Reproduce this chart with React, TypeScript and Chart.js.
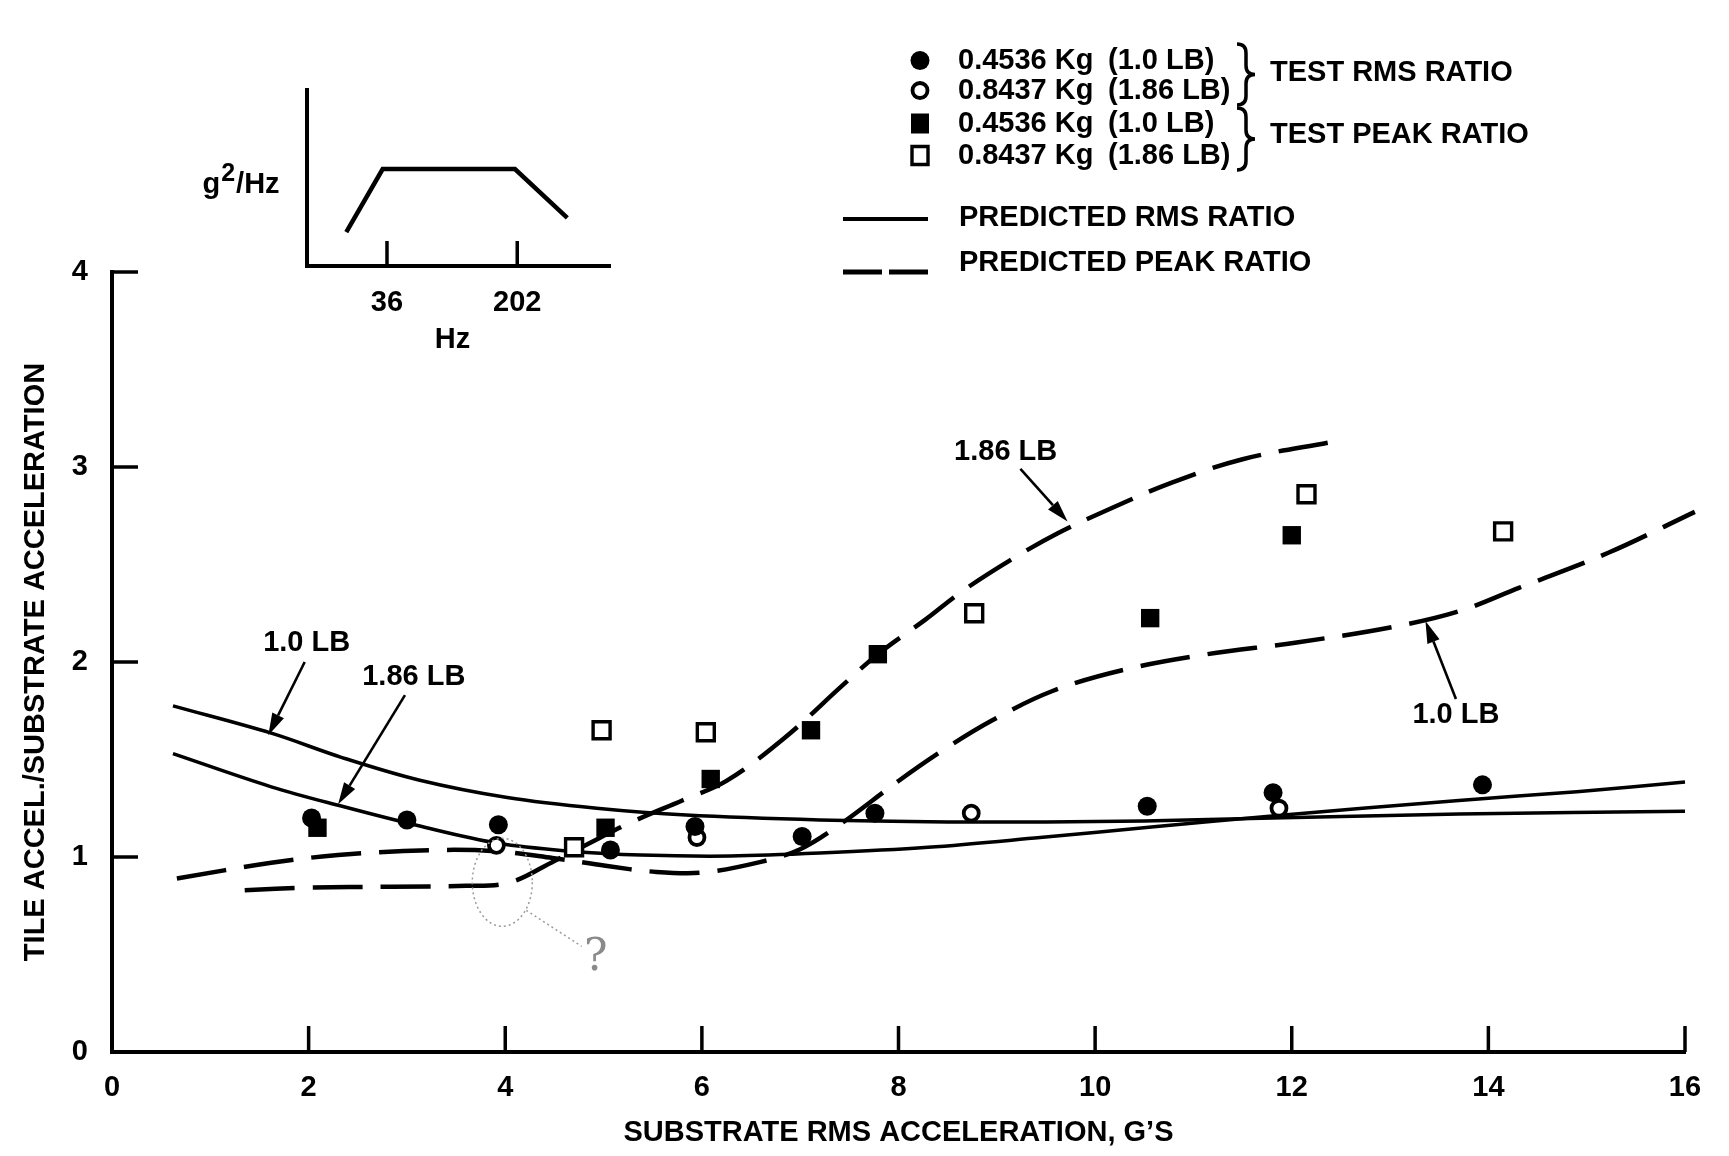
import React, { useEffect, useRef } from "react";
import { Chart, registerables } from "chart.js";

Chart.register(...registerables);

const W = 1729;
const H = 1156;
const FAMILY = "'Liberation Sans', Arial, Helvetica, sans-serif";
const FS = 29;
const boldFont = (size: number) => `bold ${size}px ${FAMILY}`;

// ---------- main axes ----------
const X_MIN = 0;
const X_MAX = 16;
const Y_MIN = 0;
const Y_MAX = 4;
const xTickValues = [0, 2, 4, 6, 8, 10, 12, 14, 16];
const yTickValues = [0, 1, 2, 3, 4];
const xAxisTitle = "SUBSTRATE RMS ACCELERATION, G’S";
const yAxisTitle = "TILE ACCEL./SUBSTRATE ACCELERATION";

// ---------- test data ----------
// 0.4536 Kg (1.0 LB) test RMS ratio (filled circles)
const rmsLightX = [2.03, 3.0, 3.93, 5.07, 5.93, 7.02, 7.76, 10.53, 11.81, 13.94];
const rmsLightY = [1.2, 1.19, 1.165, 1.036, 1.156, 1.105, 1.225, 1.26, 1.33, 1.37];
// 0.8437 Kg (1.86 LB) test RMS ratio (open circles)
const rmsHeavyX = [3.91, 5.95, 8.74, 11.87];
const rmsHeavyY = [1.06, 1.1, 1.225, 1.25];
// 0.4536 Kg (1.0 LB) test peak ratio (filled squares)
const peakLightX = [2.09, 5.02, 6.09, 7.11, 7.79, 10.56, 12.0];
const peakLightY = [1.15, 1.15, 1.4, 1.65, 2.04, 2.225, 2.65];
// 0.8437 Kg (1.86 LB) test peak ratio (open squares)
const peakHeavyX = [4.7, 4.98, 6.04, 8.77, 12.15, 14.15];
const peakHeavyY = [1.05, 1.65, 1.64, 2.25, 2.86, 2.67];

// ---------- predicted curves ----------
const predRmsLightX = [0.62, 1.62, 2.34, 3.12, 4.02, 4.93, 5.84, 7.2, 8.5, 9.5, 10.5, 11.8, 13.7, 16.0];
const predRmsLightY = [1.775, 1.635, 1.51, 1.395, 1.305, 1.25, 1.215, 1.19, 1.18, 1.18, 1.185, 1.2, 1.22, 1.235];

const predRmsHeavyX = [0.62, 1.62, 2.34, 3.12, 3.93, 4.66, 5.38, 6.29, 7.2, 8.3, 9.44, 10.6, 11.8, 13.7, 14.9, 16.0];
const predRmsHeavyY = [1.53, 1.36, 1.26, 1.16, 1.07, 1.03, 1.01, 1.005, 1.02, 1.05, 1.1, 1.155, 1.21, 1.29, 1.335, 1.385];

const predPeakLightX = [0.66, 1.62, 2.3, 3.25, 3.9, 4.48, 5.02, 5.5, 6.0, 6.6, 7.0, 7.4, 8.0, 8.46, 8.95, 9.56, 10.29, 11.14, 12.05, 13.03, 13.7, 14.31, 15.22, 16.1];
const predPeakLightY = [0.89, 0.97, 1.01, 1.035, 1.03, 0.995, 0.955, 0.925, 0.92, 0.975, 1.04, 1.165, 1.39, 1.55, 1.7, 1.85, 1.96, 2.04, 2.1, 2.18, 2.26, 2.38, 2.56, 2.77];

const predPeakHeavyX = [1.35, 1.98, 2.84, 3.6, 4.05, 4.5, 4.93, 5.29, 5.8, 6.25, 6.84, 7.43, 7.79, 8.28, 8.64, 9.13, 9.62, 10.17, 10.78, 11.5, 12.42];
const predPeakHeavyY = [0.83, 0.843, 0.848, 0.852, 0.87, 0.98, 1.09, 1.18, 1.29, 1.39, 1.61, 1.88, 2.04, 2.22, 2.36, 2.52, 2.66, 2.79, 2.92, 3.04, 3.13];

// ---------- legend texts ----------
const legendMass = ["0.4536 Kg", "0.8437 Kg", "0.4536 Kg", "0.8437 Kg"];
const legendPounds = ["(1.0 LB)", "(1.86 LB)", "(1.0 LB)", "(1.86 LB)"];
const legendGroups = ["TEST RMS RATIO", "TEST PEAK RATIO"];
const legendLines = ["PREDICTED RMS RATIO", "PREDICTED PEAK RATIO"];

// ---------- curve call-outs (data coordinates) ----------
const callouts = [
  { text: "1.86 LB", lx: 9.09, ly: 3.077, fx: 9.24, fy: 2.99, tx: 9.72, ty: 2.72 },
  { text: "1.0 LB", lx: 1.98, ly: 2.1, fx: 1.96, fy: 2.0, tx: 1.59, ty: 1.625 },
  { text: "1.86 LB", lx: 3.07, ly: 1.925, fx: 2.98, fy: 1.83, tx: 2.3, ty: 1.27 },
  { text: "1.0 LB", lx: 13.67, ly: 1.73, fx: 13.67, fy: 1.81, tx: 13.36, ty: 2.21 },
];
const questionMark = { text: "?", x: 4.92, y: 0.48, cx: 3.97, cy: 0.87 };

// ---------- inset (PSD sketch) ----------
const insetFreq = [21, 34, 196, 392];
const insetLevel = [0.192, 0.551, 0.551, 0.274];
const insetTickValues = [36, 202];
const insetXTitle = "Hz";

const toPoints = (xs: number[], ys: number[]) => xs.map((x, i) => ({ x, y: ys[i] }));

function drawArrow(ctx: CanvasRenderingContext2D, x1: number, y1: number, x2: number, y2: number) {
  const ang = Math.atan2(y2 - y1, x2 - x1);
  const headLen = 22;
  const headHalf = 6.5;
  const bx = x2 - headLen * Math.cos(ang);
  const by = y2 - headLen * Math.sin(ang);
  ctx.beginPath();
  ctx.moveTo(x1, y1);
  ctx.lineTo(bx, by);
  ctx.lineWidth = 2.6;
  ctx.stroke();
  ctx.beginPath();
  ctx.moveTo(x2, y2);
  ctx.lineTo(bx + headHalf * Math.sin(ang), by - headHalf * Math.cos(ang));
  ctx.lineTo(bx - headHalf * Math.sin(ang), by + headHalf * Math.cos(ang));
  ctx.closePath();
  ctx.fill();
}

function drawBrace(ctx: CanvasRenderingContext2D, x: number, top: number, bottom: number, w: number) {
  const mid = (top + bottom) / 2;
  const r = 9;
  const xm = x + w / 2;
  ctx.beginPath();
  ctx.moveTo(x, top);
  ctx.quadraticCurveTo(xm, top, xm, top + r);
  ctx.lineTo(xm, mid - r);
  ctx.quadraticCurveTo(xm, mid, x + w, mid);
  ctx.quadraticCurveTo(xm, mid, xm, mid + r);
  ctx.lineTo(xm, bottom - r);
  ctx.quadraticCurveTo(xm, bottom, x, bottom);
  ctx.lineWidth = 3.5;
  ctx.stroke();
}

function drawMarker(ctx: CanvasRenderingContext2D, kind: number, x: number, y: number) {
  ctx.beginPath();
  if (kind === 0) {
    ctx.arc(x, y, 9.5, 0, Math.PI * 2);
    ctx.fillStyle = "#000";
    ctx.fill();
  } else if (kind === 1) {
    ctx.arc(x, y, 7.5, 0, Math.PI * 2);
    ctx.fillStyle = "#fff";
    ctx.fill();
    ctx.lineWidth = 3.8;
    ctx.stroke();
  } else if (kind === 2) {
    ctx.rect(x - 9, y - 10, 18, 20);
    ctx.fillStyle = "#000";
    ctx.fill();
  } else {
    ctx.rect(x - 8, y - 9, 16, 18);
    ctx.fillStyle = "#fff";
    ctx.fill();
    ctx.lineWidth = 3.4;
    ctx.stroke();
  }
}

const mainDecor = {
  id: "mainDecor",
  afterDraw(chart: any) {
    const { ctx } = chart;
    const xs = chart.scales.x;
    const ys = chart.scales.y;
    ctx.save();
    ctx.strokeStyle = "#000";
    ctx.fillStyle = "#000";
    ctx.lineCap = "butt";

    // inward tick marks
    const y0 = ys.getPixelForValue(Y_MIN);
    const x0 = xs.getPixelForValue(X_MIN);
    ctx.lineWidth = 3.5;
    xTickValues
      .filter((v) => v > X_MIN)
      .forEach((v) => {
        const px = xs.getPixelForValue(v);
        ctx.beginPath();
        ctx.moveTo(px, y0);
        ctx.lineTo(px, y0 - 26);
        ctx.stroke();
      });
    yTickValues
      .filter((v) => v > Y_MIN)
      .forEach((v) => {
        const py = ys.getPixelForValue(v);
        ctx.beginPath();
        ctx.moveTo(x0, py);
        ctx.lineTo(x0 + 26, py);
        ctx.stroke();
      });

    // call-outs
    ctx.font = boldFont(FS);
    ctx.textAlign = "center";
    ctx.textBaseline = "middle";
    callouts.forEach((c) => {
      ctx.fillText(c.text, xs.getPixelForValue(c.lx), ys.getPixelForValue(c.ly));
      drawArrow(
        ctx,
        xs.getPixelForValue(c.fx),
        ys.getPixelForValue(c.fy),
        xs.getPixelForValue(c.tx),
        ys.getPixelForValue(c.ty)
      );
    });

    // hand-drawn query mark
    ctx.save();
    ctx.strokeStyle = "#9a9a9a";
    ctx.fillStyle = "#8a8a8a";
    ctx.lineWidth = 1.5;
    ctx.setLineDash([2, 3]);
    const qcx = xs.getPixelForValue(questionMark.cx);
    const qcy = ys.getPixelForValue(questionMark.cy);
    ctx.beginPath();
    ctx.ellipse(qcx, qcy, 30, 44, 0, 0, Math.PI * 2);
    ctx.stroke();
    ctx.beginPath();
    ctx.moveTo(qcx + 24, qcy + 28);
    ctx.lineTo(xs.getPixelForValue(questionMark.x) - 14, ys.getPixelForValue(questionMark.y) - 12);
    ctx.stroke();
    ctx.setLineDash([]);
    ctx.font = `normal 44px 'DejaVu Serif', serif`;
    ctx.fillText(questionMark.text, xs.getPixelForValue(questionMark.x), ys.getPixelForValue(questionMark.y));
    ctx.restore();

    // legend
    const rowY = [60.5, 90.5, 123.5, 155.5];
    ctx.font = boldFont(FS);
    ctx.textAlign = "left";
    ctx.textBaseline = "middle";
    rowY.forEach((ry, i) => {
      ctx.strokeStyle = "#000";
      drawMarker(ctx, i, 920, ry);
      ctx.fillStyle = "#000";
      ctx.fillText(legendMass[i], 958, ry);
      ctx.fillText(legendPounds[i], 1108, ry);
    });
    ctx.strokeStyle = "#000";
    drawBrace(ctx, 1237, 44, 105, 18);
    drawBrace(ctx, 1237, 108, 170, 18);
    ctx.fillStyle = "#000";
    ctx.fillText(legendGroups[0], 1270, 73);
    ctx.fillText(legendGroups[1], 1270, 135);

    ctx.lineWidth = 4;
    ctx.beginPath();
    ctx.moveTo(843, 219);
    ctx.lineTo(928, 219);
    ctx.stroke();
    ctx.lineWidth = 5;
    ctx.beginPath();
    ctx.moveTo(843, 272);
    ctx.lineTo(882, 272);
    ctx.moveTo(889, 272);
    ctx.lineTo(928, 272);
    ctx.stroke();
    ctx.fillText(legendLines[0], 959, 218);
    ctx.fillText(legendLines[1], 959, 263);

    ctx.restore();
  },
};

const insetDecor = {
  id: "insetDecor",
  afterDraw(chart: any) {
    const { ctx, chartArea } = chart;
    const xs = chart.scales.x;
    ctx.save();
    ctx.strokeStyle = "#000";
    ctx.fillStyle = "#000";
    ctx.lineWidth = 3.5;
    const base = chartArea.bottom;
    insetTickValues.forEach((v) => {
      const px = xs.getPixelForValue(v);
      ctx.beginPath();
      ctx.moveTo(px, base);
      ctx.lineTo(px, base - 25);
      ctx.stroke();
    });
    ctx.font = boldFont(FS);
    ctx.textAlign = "center";
    ctx.textBaseline = "middle";
    insetTickValues.forEach((v) => {
      ctx.fillText(String(v), xs.getPixelForValue(v), base + 37);
    });
    ctx.fillText(insetXTitle, chartArea.left + 146, base + 74);

    // g^2/Hz
    ctx.textAlign = "left";
    ctx.textBaseline = "alphabetic";
    let x = chartArea.left - 104;
    const yb = chartArea.bottom - 73;
    ctx.font = boldFont(FS);
    ctx.fillText("g", x, yb);
    x += ctx.measureText("g").width + 1;
    ctx.font = boldFont(FS - 4);
    ctx.fillText("2", x, yb - 12);
    x += ctx.measureText("2").width + 1;
    ctx.font = boldFont(FS);
    ctx.fillText("/Hz", x, yb);
    ctx.restore();
  },
};

export default function App() {
  const mainRef = useRef<HTMLCanvasElement>(null);
  const insetRef = useRef<HTMLCanvasElement>(null);

  useEffect(() => {
    const tickFont = { family: FAMILY, size: FS, weight: "bold" as const };
    const lineCommon = {
      showLine: true,
      pointRadius: 0,
      borderColor: "#000",
      backgroundColor: "#000",
      fill: false,
      tension: 0.35,
      clip: false as const,
    };

    const main = new Chart(mainRef.current as HTMLCanvasElement, {
      type: "scatter",
      data: {
        datasets: [
          {
            label: "0.4536 Kg (1.0 LB) test RMS ratio",
            data: toPoints(rmsLightX, rmsLightY),
            pointStyle: "circle",
            pointRadius: 9.5,
            pointBackgroundColor: "#000",
            pointBorderColor: "#000",
            pointBorderWidth: 0,
          },
          {
            label: "0.8437 Kg (1.86 LB) test RMS ratio",
            data: toPoints(rmsHeavyX, rmsHeavyY),
            pointStyle: "circle",
            pointRadius: 7.5,
            pointBackgroundColor: "#fff",
            pointBorderColor: "#000",
            pointBorderWidth: 3.8,
          },
          {
            label: "0.4536 Kg (1.0 LB) test peak ratio",
            data: toPoints(peakLightX, peakLightY),
            pointStyle: "rect",
            pointRadius: 13,
            pointBackgroundColor: "#000",
            pointBorderColor: "#000",
            pointBorderWidth: 0,
          },
          {
            label: "0.8437 Kg (1.86 LB) test peak ratio",
            data: toPoints(peakHeavyX, peakHeavyY),
            pointStyle: "rect",
            pointRadius: 12,
            pointBackgroundColor: "#fff",
            pointBorderColor: "#000",
            pointBorderWidth: 3.4,
          },
          {
            label: "Predicted RMS ratio 1.0 LB",
            data: toPoints(predRmsLightX, predRmsLightY),
            borderWidth: 3.5,
            ...lineCommon,
          },
          {
            label: "Predicted RMS ratio 1.86 LB",
            data: toPoints(predRmsHeavyX, predRmsHeavyY),
            borderWidth: 3.5,
            ...lineCommon,
          },
          {
            label: "Predicted peak ratio 1.0 LB",
            data: toPoints(predPeakLightX, predPeakLightY),
            borderWidth: 4.5,
            borderDash: [50, 18],
            ...lineCommon,
          },
          {
            label: "Predicted peak ratio 1.86 LB",
            data: toPoints(predPeakHeavyX, predPeakHeavyY),
            borderWidth: 4.5,
            borderDash: [50, 18],
            ...lineCommon,
          },
        ],
      },
      options: {
        responsive: false,
        animation: false,
        devicePixelRatio: 1,
        events: [],
        layout: { padding: { top: 272, right: 44, bottom: 0, left: 0 } },
        plugins: { legend: { display: false }, tooltip: { enabled: false } },
        scales: {
          x: {
            type: "linear",
            min: X_MIN,
            max: X_MAX,
            afterBuildTicks: (s: any) => {
              s.ticks = xTickValues.map((v) => ({ value: v }));
            },
            afterFit: (s: any) => {
              s.height = 104;
            },
            grid: { display: false, drawTicks: false },
            border: { display: true, width: 4, color: "#000" },
            ticks: { color: "#000", font: tickFont, padding: 19, maxRotation: 0, autoSkip: false },
            title: {
              display: true,
              text: xAxisTitle,
              color: "#000",
              font: tickFont,
              padding: { top: 0, bottom: 6 },
            },
          },
          y: {
            type: "linear",
            min: Y_MIN,
            max: Y_MAX,
            afterBuildTicks: (s: any) => {
              s.ticks = yTickValues.map((v) => ({ value: v }));
            },
            afterFit: (s: any) => {
              s.width = 112;
            },
            grid: { display: false, drawTicks: false },
            border: { display: true, width: 4, color: "#000" },
            ticks: { color: "#000", font: tickFont, padding: 24, autoSkip: false },
            title: {
              display: true,
              text: yAxisTitle,
              color: "#000",
              font: tickFont,
              padding: { top: 19, bottom: 0 },
            },
          },
        },
      },
      plugins: [mainDecor],
    } as any);

    const inset = new Chart(insetRef.current as HTMLCanvasElement, {
      type: "scatter",
      data: {
        datasets: [
          {
            label: "Input PSD",
            data: toPoints(insetFreq, insetLevel),
            showLine: true,
            pointRadius: 0,
            borderColor: "#000",
            borderWidth: 4.5,
            tension: 0,
            clip: false,
          },
        ],
      },
      options: {
        responsive: false,
        animation: false,
        devicePixelRatio: 1,
        events: [],
        layout: { padding: { top: 30, right: 30, bottom: 114, left: 156.5 } },
        plugins: { legend: { display: false }, tooltip: { enabled: false } },
        scales: {
          x: {
            type: "logarithmic",
            min: 12.4,
            max: 690,
            afterFit: (s: any) => {
              s.height = 0;
            },
            grid: { display: false, drawTicks: false },
            border: { display: true, width: 4, color: "#000" },
            ticks: { display: false },
          },
          y: {
            type: "linear",
            min: 0,
            max: 1,
            afterFit: (s: any) => {
              s.width = 0;
            },
            grid: { display: false, drawTicks: false },
            border: { display: true, width: 4, color: "#000" },
            ticks: { display: false },
          },
        },
      },
      plugins: [insetDecor],
    } as any);

    return () => {
      main.destroy();
      inset.destroy();
    };
  }, []);

  return (
    <div style={{ position: "absolute", left: 0, top: 0, width: W, height: H, background: "#fff" }}>
      <canvas
        ref={mainRef}
        width={W}
        height={H}
        style={{ position: "absolute", left: 0, top: 0, width: W, height: H }}
      />
      <canvas
        ref={insetRef}
        width={490}
        height={320}
        style={{ position: "absolute", left: 150, top: 60, width: 490, height: 320 }}
      />
    </div>
  );
}
